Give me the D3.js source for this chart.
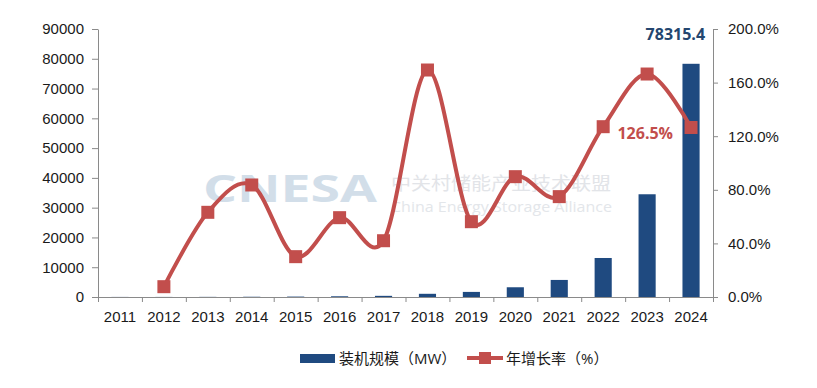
<!DOCTYPE html>
<html>
<head>
<meta charset="utf-8">
<script src="https://cdn.jsdelivr.net/npm/d3@7"></script>
<style>
  body { margin: 0; background: #fff; }
  svg { font-family: "Open Sans", "Noto Sans CJK SC", sans-serif; }
  .axis path, .axis line { stroke: #8a8a8a; }
  .axis text { font-size: 15px; fill: #1a1a1a; }
</style>
</head>
<body>
<div id="chart"></div>
<script>
// years, installed capacity (MW) and yearly growth (%)
let years = ["2011","2012","2013","2014","2015","2016","2017","2018","2019","2020","2021","2022","2023","2024"];
let capacity = [26, 28, 46, 84, 142, 243, 390, 1074, 1710, 3269, 5730, 13100, 34500, 78315.4];
let growth = [null, 7.7, 63.2, 83.6, 30.1, 59.2, 42.0, 169.4, 56.2, 89.8, 74.9, 127.1, 166.4, 126.5];
let leftTicks = [0,10000,20000,30000,40000,50000,60000,70000,80000,90000];
let rightTicks = [0, 40, 80, 120, 160, 200];
let legendNames = ["装机规模（MW）", "年增长率（%）"];

let W = 817, H = 388,
    margin = {top: 29, right: 104, bottom: 91, left: 98};
let width = W - margin.left - margin.right,
    height = H - margin.top - margin.bottom;

let barColor = "#1f4a80", lineColor = "#c24e4c";

let svg = d3.select("#chart").append("svg")
    .attr("width", W).attr("height", H);

// watermark
let wm = svg.append("g").attr("class", "watermark");
wm.append("text").attr("x", 203).attr("y", 202)
    .attr("textLength", 174).attr("lengthAdjust", "spacingAndGlyphs")
    .style("font-size", "38px").style("font-weight", "bold")
    .style("fill", "#d2dee9")
    .text("CNESA");
wm.append("text").attr("x", 391).attr("y", 190)
    .attr("textLength", 220).attr("lengthAdjust", "spacingAndGlyphs")
    .style("font-size", "18px").style("fill", "#e2e4e8")
    .text("中关村储能产业技术联盟");
wm.append("text").attr("x", 391).attr("y", 212)
    .attr("textLength", 221).attr("lengthAdjust", "spacingAndGlyphs")
    .style("font-size", "15px").style("fill", "#e3e6ea")
    .text("China Energy Storage Alliance");

let g = svg.append("g")
    .attr("transform", "translate(" + margin.left + "," + margin.top + ")");

let x = d3.scaleBand().domain(years).range([0, width])
    .paddingInner(0.61).paddingOuter(0.305);
let xi = d3.scaleLinear().domain([0, years.length]).range([0, width]);
let yL = d3.scaleLinear().domain([0, 90000]).range([height, 0]);
let yR = d3.scaleLinear().domain([0, 200]).range([height, 0]);

// bars
g.selectAll(".bar")
    .data(years)
    .enter().append("rect")
        .attr("class", "bar")
        .attr("x", function(d) { return x(d); })
        .attr("width", x.bandwidth())
        .attr("y", function(d, i) { return yL(capacity[i]); })
        .attr("height", function(d, i) { return height - yL(capacity[i]); })
        .style("fill", barColor);

// axes
g.append("g").attr("class", "axis")
    .call(d3.axisLeft(yL).tickValues(leftTicks).tickSize(6).tickPadding(8).tickSizeOuter(0)
        .tickFormat(d3.format("d")));

g.append("g").attr("class", "axis")
    .attr("transform", "translate(" + width + ",0)")
    .call(d3.axisRight(yR).tickValues(rightTicks).tickSize(5).tickPadding(10).tickSizeOuter(0)
        .tickFormat(function(d) { return d.toFixed(1) + "%"; }));

// bottom axis: ticks between categories, labels centred
g.append("g").attr("class", "axis")
    .attr("transform", "translate(0," + height + ")")
    .call(d3.axisBottom(xi).tickValues(d3.range(years.length + 1)).tickSize(5).tickSizeOuter(0).tickFormat(""));

g.append("g").attr("class", "axis")
    .attr("transform", "translate(0," + height + ")")
    .call(d3.axisBottom(x).tickSize(0).tickPadding(14))
    .call(function(a) { a.select(".domain").remove(); });

// growth line
let pts = years.map(function(d, i) { return {year: d, v: growth[i]}; })
    .filter(function(d) { return d.v !== null; });

let line = d3.line()
    .x(function(d) { return x(d.year) + x.bandwidth() / 2; })
    .y(function(d) { return yR(d.v); })
    .curve(d3.curveCardinal.tension(0));

g.append("path")
    .datum(pts)
    .attr("d", line)
    .style("fill", "none")
    .style("stroke", lineColor)
    .style("stroke-width", 4);

let ms = 13;
g.selectAll(".marker")
    .data(pts)
    .enter().append("rect")
        .attr("class", "marker")
        .attr("x", function(d) { return x(d.year) + x.bandwidth() / 2 - ms / 2; })
        .attr("y", function(d) { return yR(d.v) - ms / 2; })
        .attr("width", ms).attr("height", ms)
        .style("fill", lineColor);

// data labels
let last = years.length - 1;
g.append("text")
    .attr("x", x(years[last]) + x.bandwidth() / 2 + 14)
    .attr("y", yL(capacity[last]) - 24)
    .style("text-anchor", "end")
    .style("font-size", "16px").style("font-weight", "bold")
    .style("fill", "#24466f")
    .text(capacity[last]);

g.append("text")
    .attr("x", x(years[last]) + x.bandwidth() / 2 - 18)
    .attr("y", yR(growth[last]) + 12)
    .style("text-anchor", "end")
    .style("font-size", "16px").style("font-weight", "bold")
    .style("fill", lineColor)
    .text(growth[last].toFixed(1) + "%");

// legend
let lg = svg.append("g").attr("transform", "translate(0,358)");
lg.append("rect").attr("x", 300).attr("y", -4).attr("width", 35).attr("height", 9)
    .style("fill", barColor);
lg.append("text").attr("x", 339).attr("y", 6)
    .style("font-size", "15px").style("fill", "#1a1a1a")
    .text(legendNames[0]);
lg.append("line").attr("x1", 467).attr("x2", 503).attr("y1", 0).attr("y2", 0)
    .style("stroke", lineColor).style("stroke-width", 4);
lg.append("rect").attr("x", 479).attr("y", -6).attr("width", 12).attr("height", 12)
    .style("fill", lineColor);
lg.append("text").attr("x", 506).attr("y", 6)
    .style("font-size", "15px").style("fill", "#1a1a1a")
    .text(legendNames[1]);
</script>
</body>
</html>
